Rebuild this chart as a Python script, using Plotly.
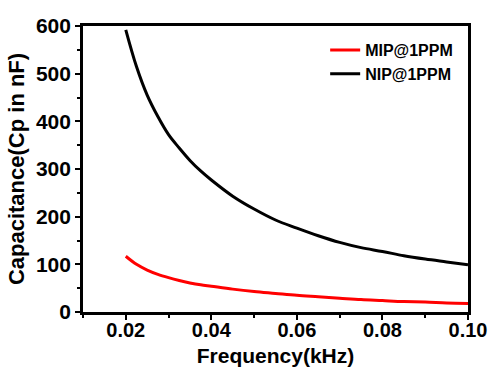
import plotly.graph_objects as go

freq = [0.020, 0.0225, 0.025, 0.0275, 0.030, 0.0325, 0.035, 0.0375, 0.040, 0.045, 0.050, 0.055, 0.060,
        0.065, 0.070, 0.075, 0.080, 0.085, 0.090, 0.095, 0.100]
mip = [117, 100, 88, 79, 72, 66, 61, 57, 54, 48, 43, 39, 35, 32, 29, 26, 24, 22, 21, 19, 18]
nip = [592, 515, 455, 410, 372, 344, 318, 296, 277, 243, 216, 193, 176, 160, 146, 135, 127, 118, 111, 105, 99]

x_ticks = [0.02, 0.04, 0.06, 0.08, 0.10]
x_ticklabels = ["0.02", "0.04", "0.06", "0.08", "0.10"]
y_ticks = [0, 100, 200, 300, 400, 500, 600]

FONT = "Liberation Sans, Arial, sans-serif"

fig = go.Figure()
fig.add_trace(go.Scatter(x=freq, y=mip, mode="lines", name="MIP@1PPM",
                         line=dict(color="#ff0000", width=3, shape="spline", smoothing=1.0)))
fig.add_trace(go.Scatter(x=freq, y=nip, mode="lines", name="NIP@1PPM",
                         line=dict(color="#000000", width=3, shape="spline", smoothing=1.0)))

axis_common = dict(showline=True, linecolor="black", linewidth=2.7, mirror=True,
                   ticks="outside", ticklen=5, tickwidth=2, tickcolor="black",
                   showgrid=False, zeroline=False, automargin=False)

fig.update_xaxes(range=[0.01, 0.10], tickvals=x_ticks, ticktext=x_ticklabels,
                 ticklabelstandoff=-7,
                 tickfont=dict(family=FONT, size=20, color="black", weight="bold"),
                 minor=dict(dtick=0.01, tick0=0.01, ticks="outside", ticklen=3, tickwidth=2, tickcolor="black"),
                 title=dict(text="Frequency(kHz)", font=dict(family=FONT, size=21, color="black", weight="bold"),
                            standoff=9),
                 **axis_common)
fig.update_yaxes(range=[0, 600], tickvals=y_ticks,
                 tickfont=dict(family=FONT, size=21, color="black", weight="bold"),
                 minor=dict(dtick=50, tick0=0, ticks="outside", ticklen=3, tickwidth=2, tickcolor="black"),
                 title=dict(text="Capacitance(Cp in nF)", font=dict(family=FONT, size=22, color="black", weight="bold"),
                            standoff=6),
                 **axis_common)

fig.update_layout(width=489, height=369,
                  margin=dict(l=83, r=21, t=26, b=57),
                  plot_bgcolor="white", paper_bgcolor="white",
                  legend=dict(x=0.629, y=0.975, xanchor="left", yanchor="top",
                              bgcolor="rgba(0,0,0,0)", tracegroupgap=0,
                              font=dict(family=FONT, size=16, color="black", weight="bold")),
                  showlegend=True)

fig.write_html("out.html", config={"displayModeBar": False},
               post_script="document.body.style.margin='0';document.body.style.overflow='hidden';")
